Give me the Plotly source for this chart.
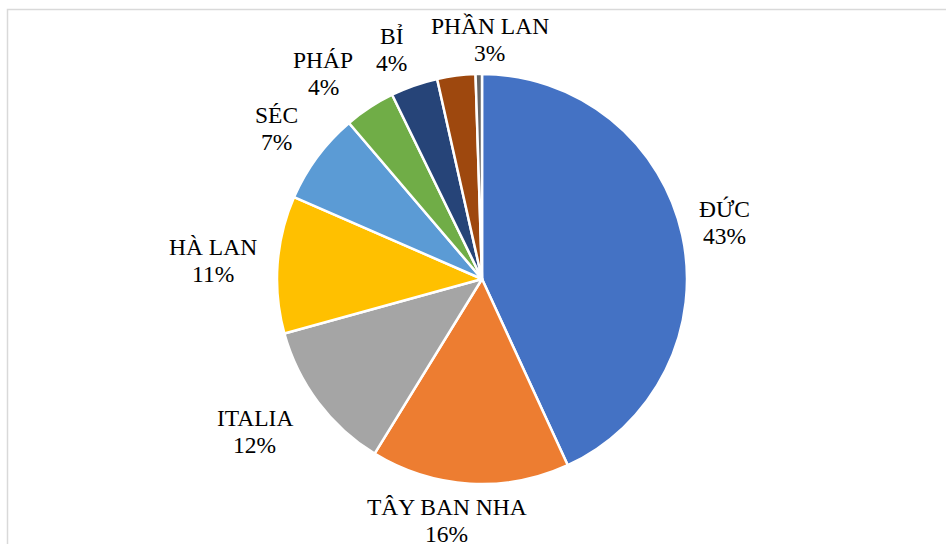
import math
import plotly.graph_objects as go

# Share of each country (percent)
countries = ["ĐỨC", "TÂY BAN NHA", "ITALIA", "HÀ LAN", "SÉC", "PHÁP", "BỈ", "PHẦN LAN", "KHÁC"]
shares = [43.0, 15.6, 11.9, 10.8, 7.2, 4.0, 3.7, 3.0, 0.5]
colors = ["#4472C4", "#ED7D31", "#A5A5A5", "#FFC000", "#5B9BD5",
          "#70AD47", "#264478", "#9E480E", "#636363"]
# the smallest slice carries no label
labelled = [True] * 8 + [False]

W, H = 946, 544
cx, cy, r = 482, 279, 205          # pie centre and radius in pixels
FONT = dict(family="Liberation Serif", size=23.5, color="#000000")
LINE_GAP = 27                       # distance between the two label lines
RX, RY = 210, 205                   # label anchor ring radii
PAD_X = 15                          # horizontal padding around label boxes
CHAR_W = 14.8                       # approx. width of one character
HALF_H = 27                         # half-height of a two-line label
SEP = 24                            # minimum gap between neighbouring labels

fig = go.Figure(go.Pie(
    labels=countries,
    values=shares,
    sort=False,
    direction="clockwise",
    rotation=0,
    marker=dict(colors=colors, line=dict(color="white", width=2.5)),
    textinfo="none",
    hoverinfo="label+percent",
    showlegend=False,
    domain=dict(x=[(cx - r) / W, (cx + r) / W],
                y=[(H - cy - r) / H, (H - cy + r) / H]),
))

# Outside-end labels at each slice's mid angle, pushed outward by their own
# size and nudged apart when they collide
total = sum(shares)
annotations = []
boxes = []
cum = 0.0
for name, v, show in zip(countries, shares, labelled):
    mid = (cum + v / 2) / total * 2 * math.pi   # clockwise from 12 o'clock
    cum += v
    if not show:
        continue
    dx, dy = math.sin(mid), -math.cos(mid)
    pct = f"{round(v / total * 100):.0f}%"
    half_w = CHAR_W * max(len(name), len(pct)) / 2
    lx = cx + RX * dx + (half_w + PAD_X) * math.tanh(4 * dx)
    ly = cy + RY * dy + 1.5 * HALF_H * math.tanh(1.5 * dy)
    if boxes:
        px0, px1, py0, py1 = boxes[-1]
        if lx - half_w < px1 + SEP and py0 < ly + HALF_H and ly - HALF_H < py1 and lx > px0:
            lx = px1 + SEP + half_w
    boxes.append((lx - half_w, lx + half_w, ly - HALF_H, ly + HALF_H))
    for text, off in ((name, -LINE_GAP / 2), (pct, LINE_GAP / 2)):
        annotations.append(dict(
            x=lx / W, y=1 - (ly + off) / H, xref="paper", yref="paper",
            text=text, showarrow=False, font=FONT,
            xanchor="center", yanchor="middle",
        ))

fig.update_layout(
    width=W, height=H,
    margin=dict(l=0, r=0, t=0, b=0, autoexpand=False),
    paper_bgcolor="white",
    plot_bgcolor="white",
    annotations=annotations,
    shapes=[dict(type="rect", xref="paper", yref="paper",
                 x0=7.5 / W, x1=1.05, y0=-0.05, y1=1 - 9.5 / H,
                 line=dict(color="#D9D9D9", width=1.5), layer="below")],
)

fig.write_html("out.html")
